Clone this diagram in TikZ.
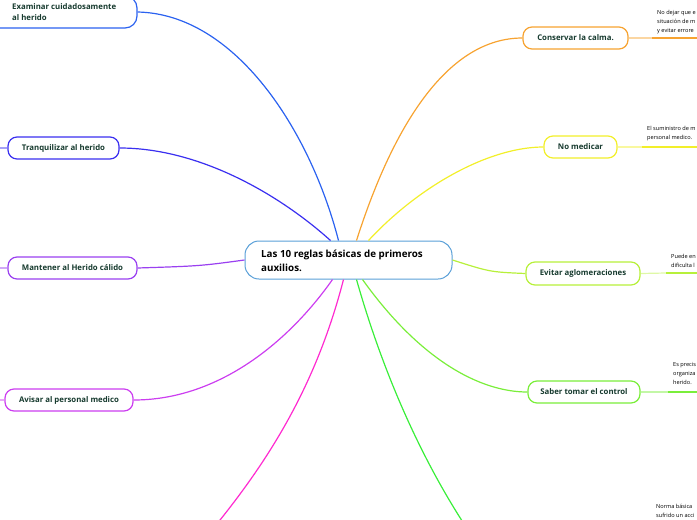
\documentclass[tikz,border=0pt]{standalone}
\usepackage{fontspec}
\setmainfont{Open Sans}
\definecolor{txt}{HTML}{163A2E}
\definecolor{ccent}{HTML}{5AA0D8}
\definecolor{cexam}{HTML}{2B62F0}
\definecolor{ctranq}{HTML}{3A2FF0}
\definecolor{cmant}{HTML}{9A40F0}
\definecolor{cavis}{HTML}{CC3EF0}
\definecolor{cpink}{HTML}{FF2AD0}
\definecolor{cgreen}{HTML}{3AEE3A}
\definecolor{ccons}{HTML}{F7A331}
\definecolor{cnomed}{HTML}{F2EF2A}
\definecolor{cevit}{HTML}{B7F03A}
\definecolor{csaber}{HTML}{7AEE3A}
\begin{document}
\begin{tikzpicture}[x=1pt,y=-1pt,
  box/.style={draw, line width=1.2pt, rounded corners=9pt, fill=white, minimum height=22pt, inner sep=0pt,
    font=\bfseries\fontsize{7.8}{9}\selectfont, text=txt},
  conn/.style={line width=1.2pt},
  stub/.style={line width=1.2pt, opacity=0.45},
  note/.style={font=\fontsize{5.6}{9}\selectfont, anchor=north west, align=left, inner sep=0pt, text=black}
]
\useasboundingbox (0,0) rectangle (697,520);
\clip (0,0) rectangle (697,520);

% central
\node[box, draw=ccent, line width=1pt, rounded corners=14pt, fill=white, minimum width=207pt, minimum height=38pt] (cent) at (348.5,260) {};
\node[anchor=west, inner sep=0pt, align=left, font=\bfseries\fontsize{9.8}{14}\selectfont, text=black] (centt) at (261,261) {Las 10 reglas básicas de primeros\\auxilios.};

% left nodes
\node[box, draw=cexam, minimum width=158pt, minimum height=32pt, rounded corners=12pt] (exam) at (58,12) {};
\node[anchor=west, inner sep=0pt, align=left, font=\bfseries\fontsize{7.8}{11}\selectfont, text=txt] (examt) at (12,12.5) {Examinar cuidadosamente\\al herido};
\node[box, draw=ctranq, minimum width=111pt] (tranq) at (63.5,148) {Tranquilizar al herido};
\node[box, draw=cmant, minimum width=129pt] (mant) at (72.5,268) {Mantener al Herido cálido};
\node[box, draw=cavis, minimum width=128pt] (avis) at (69,400) {Avisar al personal medico};

% right nodes
\node[box, draw=ccons, minimum width=105pt] (cons) at (575.5,38) {Conservar la calma.};
\node[box, draw=cnomed, minimum width=73pt] (nomed) at (580.5,147) {No medicar};
\node[box, draw=cevit, minimum width=114pt, minimum height=23pt] (evit) at (583,273.5) {Evitar aglomeraciones};
\node[box, draw=csaber, minimum width=112pt] (saber) at (584,392) {Saber tomar el control};

% free ends
\coordinate (pinkend) at (212,530);
\coordinate (greenend) at (468,530);
\coordinate (tranql) at (-10,148);
\coordinate (mantl) at (-10,268);
\coordinate (avisl) at (-10,400);
\coordinate (consu) at (652,38);   \coordinate (conse) at (710,38);
\coordinate (nomedu) at (642,147); \coordinate (nomede) at (710,147);
\coordinate (evitu) at (666,273);  \coordinate (evite) at (710,273);
\coordinate (saberu) at (668,392); \coordinate (sabere) at (710,392);

% connectors from center
\draw[conn, cexam] ([xshift=-10pt]cent.north) .. controls (310,130) and (235,14) .. (exam.east);
\draw[conn, ctranq] ([xshift=-18pt]cent.north) .. controls (280,195) and (200,148) .. (tranq.east);
\draw[conn, cmant] (cent.west) .. controls (200,266) .. (mant.east);
\draw[conn, cavis] ([xshift=-16pt]cent.south) .. controls (290,340) and (220,400) .. (avis.east);
\draw[conn, cpink] ([xshift=-5pt]cent.south) .. controls (315,390) and (265,465) .. (pinkend);
\draw[conn, cgreen] ([xshift=8pt]cent.south) .. controls (385,380) and (425,465) .. (greenend);
\draw[conn, ccons] ([xshift=8pt]cent.north) .. controls (395,120) and (450,38) .. (cons.west);
\draw[conn, cnomed] ([xshift=20pt]cent.north) .. controls (420,185) and (490,147) .. (nomed.west);
\draw[conn, cevit] (cent.east) .. controls (490,272) .. (evit.west);
\draw[conn, csaber] ([xshift=14pt]cent.south) .. controls (420,360) and (480,392) .. (saber.west);

% stubs to the left
\draw[stub, ctranq] (tranq.west) -- (tranql);
\draw[stub, cmant] (mant.west) -- (mantl);
\draw[stub, cavis] (avis.west) -- (avisl);

% right extensions
\draw[stub, ccons] (cons.east) -- (consu);   \draw[conn, ccons] (consu) -- (conse);
\draw[stub, cnomed] (nomed.east) -- (nomedu); \draw[conn, cnomed] (nomedu) -- (nomede);
\draw[stub, cevit] (evit.east) -- (evitu);   \draw[conn, cevit] (evitu) -- (evite);
\draw[stub, csaber] (saber.east) -- (saberu); \draw[conn, csaber] (saberu) -- (sabere);

% notes
\node[note] (consn) at (657,10) {No dejar que e\\situación de m\\y evitar errore};
\node[note] (nomedn) at (647,126) {El suministro de m\\personal medico.};
\node[note] (evitn) at (671,254) {Puede en\\dificulta l};
\node[note] (sabern) at (673,362) {Es precis\\organiza\\herido.};
\node[note] (botn) at (656,504) {Norma básica\\sufrido un acci};
\end{tikzpicture}
\end{document}
